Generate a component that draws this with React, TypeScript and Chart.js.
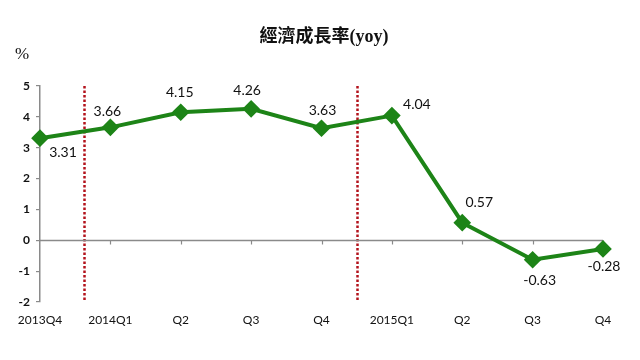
import React, { useEffect, useRef } from 'react';
import { Chart, registerables } from 'chart.js';

Chart.register(...registerables);

// ---- data ----
const categories = ['2013Q4', '2014Q1', 'Q2', 'Q3', 'Q4', '2015Q1', 'Q2', 'Q3', 'Q4'];
const gdpGrowth = [3.31, 3.66, 4.15, 4.26, 3.63, 4.04, 0.57, -0.63, -0.28];
const yMin = -2;
const yMax = 5;
const yStep = 1;
const yearDividers = [0.62, 4.51]; // category-index positions of the dotted year separators
const chartTitle = '經濟成長率(yoy)';
const unitLabel = '%';

// label placement (pixel offsets from each point)
const labelOffsets: number[][] = [
  [23, 14], [-3, -16], [-1, -20], [-4, -18], [1, -18], [25, -11], [17, -20], [7, 21], [1, 18],
];

const GREEN = '#1d8417';
const AXIS = '#8a8a8a';
const TEXT = '#111111';
const RED = '#b3121b';

const decorPlugin = {
  id: 'decor',
  beforeDatasetsDraw(chart: any) {
    const { ctx, chartArea, scales } = chart;
    const x = scales.x;
    const y = scales.y;
    ctx.save();
    // year dividers
    ctx.strokeStyle = RED;
    ctx.lineWidth = 2.5;
    ctx.setLineDash([2.5, 2]);
    yearDividers.forEach((pos) => {
      const px = Math.round(x.getPixelForValue(pos)) + 0.5;
      ctx.beginPath();
      ctx.moveTo(px, chartArea.top);
      ctx.lineTo(px, chartArea.bottom);
      ctx.stroke();
    });
    ctx.setLineDash([]);
    // zero axis line
    const y0 = Math.round(y.getPixelForValue(0)) + 0.5;
    ctx.strokeStyle = AXIS;
    ctx.lineWidth = 1.5;
    ctx.beginPath();
    ctx.moveTo(chartArea.left, y0);
    ctx.lineTo(chartArea.right, y0);
    ctx.stroke();
    // tick marks on zero axis
    ctx.lineWidth = 1.2;
    categories.forEach((_, i) => {
      if (i === 0) return;
      const px = Math.round(x.getPixelForValue(i)) + 0.5;
      ctx.beginPath();
      ctx.moveTo(px, y0);
      ctx.lineTo(px, y0 + 4);
      ctx.stroke();
    });
    ctx.restore();
  },
  afterDatasetsDraw(chart: any) {
    const { ctx } = chart;
    const meta = chart.getDatasetMeta(0);
    ctx.save();
    ctx.fillStyle = TEXT;
    ctx.font = '14px Lato, "Open Sans", sans-serif';
    ctx.textAlign = 'center';
    ctx.textBaseline = 'middle';
    meta.data.forEach((pt: any, i: number) => {
      const [dx, dy] = labelOffsets[i];
      ctx.fillText(gdpGrowth[i].toFixed(2), pt.x + dx, pt.y + dy);
    });
    // title
    ctx.font = 'bold 18px "Liberation Serif", "Noto Sans CJK TC", serif';
    ctx.fillText(chartTitle, 324, 37);
    // unit
    ctx.font = '17px "Liberation Serif", serif';
    ctx.fillText(unitLabel, 22, 55);
    ctx.restore();
  },
};

export default function App() {
  const canvasRef = useRef<HTMLCanvasElement | null>(null);

  useEffect(() => {
    if (!canvasRef.current) return;
    const chart = new Chart(canvasRef.current, {
      type: 'line',
      data: {
        labels: categories,
        datasets: [
          {
            data: gdpGrowth,
            borderColor: GREEN,
            backgroundColor: GREEN,
            borderWidth: 4,
            pointStyle: 'rectRot',
            pointRadius: 6,
            pointBackgroundColor: GREEN,
            pointBorderColor: GREEN,
            tension: 0,
          },
        ],
      },
      options: {
        animation: false,
        responsive: false,
        layout: { padding: { top: 86, right: 37, left: 0, bottom: 0 } },
        plugins: {
          legend: { display: false },
          title: { display: false },
          tooltip: { enabled: false },
        },
        scales: {
          x: {
            type: 'category',
            offset: false,
            grid: { display: false, drawTicks: false },
            border: { display: false },
            ticks: {
              autoSkip: false,
              maxRotation: 0,
              padding: 11,
              color: TEXT,
              font: { family: 'Lato, "Open Sans", sans-serif', size: 12 },
            },
            afterFit: (s: any) => {
              s.height = 58;
            },
          },
          y: {
            min: yMin,
            max: yMax,
            ticks: {
              stepSize: yStep,
              padding: 6,
              color: TEXT,
              font: { family: 'Lato, "Open Sans", sans-serif', size: 12, weight: 'bold' },
            },
            grid: {
              drawOnChartArea: false,
              drawTicks: true,
              tickLength: 4,
              color: AXIS,
              lineWidth: 1.2,
            },
            border: { display: true, color: AXIS, width: 1.5 },
            afterFit: (s: any) => {
              s.width = 40;
            },
          },
        },
      },
      plugins: [decorPlugin],
    });
    return () => chart.destroy();
  }, []);

  return (
    <div style={{ position: 'fixed', left: 0, top: 0, width: 640, height: 360, background: '#fff' }}>
      <canvas ref={canvasRef} width={640} height={360} style={{ display: 'block' }} />
    </div>
  );
}
